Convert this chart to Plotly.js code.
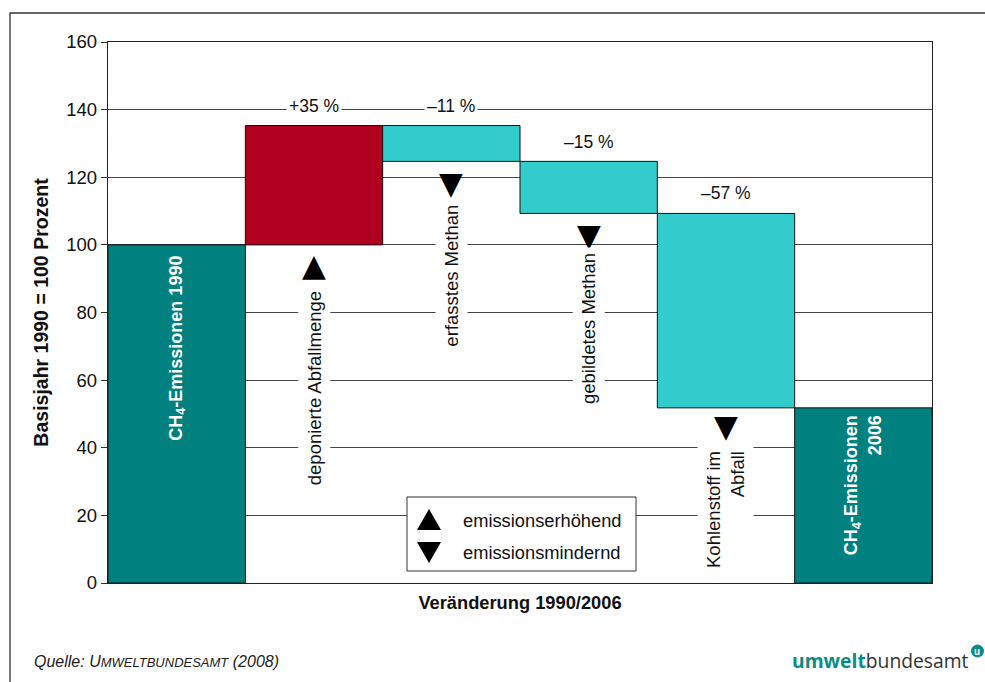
<!DOCTYPE html>
<html>
<head>
<meta charset="utf-8">
<script src="https://cdn.plot.ly/plotly-3.0.1.min.js"></script>
<style>html,body{margin:0;padding:0;background:#fff;}#chart{width:985px;height:682px;}</style>
</head>
<body>
<div id="chart"></div>
<script>
// ---- data ----
const categories = ["CH4-Emissionen 1990", "deponierte Abfallmenge", "erfasstes Methan", "gebildetes Methan", "Kohlenstoff im Abfall", "CH4-Emissionen 2006"];
const measures = ["absolute", "relative", "relative", "relative", "relative", "total"];
const values = [100, 35.3, -10.6, -15.4, -57.5, 0];
const pctLabels = ["+35 %", "–11 %", "–15 %", "–57 %"];
const barLabels = ["CH<sub>4</sub>-Emissionen 1990", "deponierte Abfallmenge", "erfasstes Methan", "gebildetes Methan", "Kohlenstoff im<br>Abfall", "CH<sub>4</sub>-Emissionen<br>2006"];
const directions = ["", "▲", "▼", "▼", "▼", ""];
const yTicks = [0, 20, 40, 60, 80, 100, 120, 140, 160];
const legendLabels = ["emissionserhöhend", "emissionsmindernd"];

// ---- layout helpers ----
const W = 985, H = 682, L = 108, R = 53, T = 42, B = 99;
const pw = W - L - R, ph = H - T - B;
const px = x => (x - L) / pw;          // pixel -> paper x
const py = y => (H - B - y) / ph;      // pixel -> paper y
const FONT = "Liberation Sans, Arial, sans-serif";
const TRI = "DejaVu Sans, sans-serif";

const trace = {
  type: "waterfall",
  x: categories.map((c, i) => i),
  measure: measures,
  y: values,
  textinfo: "none",
  hoverinfo: "skip",
  connector: {visible: false},
  increasing: {marker: {color: "#B1001F", line: {color: "#111", width: 1}}},
  decreasing: {marker: {color: "#33CCCC", line: {color: "#111", width: 1}}},
  totals: {marker: {color: "#00807F", line: {color: "#111", width: 1}}},
  showlegend: false
};

const ann = [];
// percent labels (above the change bars)
const pctY = [141, 141, 130.5, 115.2];
pctLabels.forEach((t, i) => ann.push({
  x: i + 1, y: pctY[i], xref: "x", yref: "y", text: t, showarrow: false,
  font: {family: FONT, size: 17.5, color: "#111"}, bgcolor: "#fff", borderpad: 2
}));
// triangles
const triY = [null, 94, 118.3, 102.8, 46.3, null];
directions.forEach((d, i) => { if (d) ann.push({
  x: i, y: triY[i], xref: "x", yref: "y", text: d, showarrow: false,
  font: {family: TRI, size: 31, color: "#000"}
});});
// rotated category labels
const labY = [69.5, 57.6, 91, 75.3, 21.6, 29];
barLabels.forEach((t, i) => {
  const total = (i === 0 || i === 5);
  ann.push({
    x: i, y: labY[i], xref: "x", yref: "y", text: total ? "<b>" + t + "</b>" : t,
    showarrow: false, textangle: -90, align: "right",
    font: {family: FONT, size: total ? 18 : 18.5, color: total ? "#fff" : "#111"},
    bgcolor: total ? "rgba(0,0,0,0)" : "#fff", borderpad: total ? 0 : 5
  });
});
// legend texts
legendLabels.forEach((t, i) => ann.push({
  x: px(461), y: py(520 + 32 * i), xref: "paper", yref: "paper", xanchor: "left", yanchor: "middle", text: t,
  showarrow: false, font: {family: FONT, size: 18.3, color: "#111"}
}));
// source
ann.push({
  x: px(32), y: py(661), xref: "paper", yref: "paper", xanchor: "left", yanchor: "middle",
  text: "<i>Quelle: U<span style=\"font-size:13px\">MWELTBUNDESAMT</span> (2008)</i>",
  showarrow: false, font: {family: FONT, size: 16, color: "#222"}
});
// logo
ann.push({
  x: px(971), y: py(660), xref: "paper", yref: "paper", xanchor: "right", yanchor: "middle",
  text: "<b><span style=\"color:#0A8C84\">umwelt</span></b>bundesamt",
  showarrow: false, font: {family: "Open Sans, sans-serif", size: 19.3, color: "#333"}
});
ann.push({
  x: px(977.5), y: py(651), xref: "paper", yref: "paper", xanchor: "center", yanchor: "middle", text: "<b>u</b>",
  showarrow: false, font: {family: FONT, size: 10, color: "#fff"}
});

const tri = (pts) => "M" + pts.map(p => px(p[0]) + "," + py(p[1])).join(" L") + " Z";

const shapes = [
  // outer frame
  {type: "rect", xref: "paper", yref: "paper", x0: px(10), x1: px(1000), y0: py(700), y1: py(13),
   line: {color: "#333", width: 1.3}, fillcolor: "rgba(0,0,0,0)", layer: "below"},
  // legend box
  {type: "rect", xref: "paper", yref: "paper", x0: px(407), x1: px(636), y0: py(571), y1: py(497),
   line: {color: "#333", width: 1}, fillcolor: "#fff", layer: "above"},
  // legend symbols
  {type: "path", xref: "paper", yref: "paper", path: tri([[417, 530], [441, 530], [429, 509]]),
   line: {width: 0}, fillcolor: "#000", layer: "above"},
  {type: "path", xref: "paper", yref: "paper", path: tri([[417, 542], [441, 542], [429, 563]]),
   line: {width: 0}, fillcolor: "#000", layer: "above"},
  // logo circle
  {type: "circle", xref: "paper", yref: "paper", x0: px(971.5), x1: px(983.5), y0: py(657), y1: py(645),
   line: {color: "#0A8C84", width: 1}, fillcolor: "#0A8C84", layer: "below"}
];

const layout = {
  width: W, height: H,
  margin: {l: L, r: R, t: T, b: B, pad: 0},
  paper_bgcolor: "#fff", plot_bgcolor: "#fff",
  font: {family: FONT, color: "#111"},
  waterfallgap: 0,
  showlegend: false,
  xaxis: {
    range: [-0.5, 5.5], showticklabels: false, ticks: "", showgrid: false, zeroline: false,
    showline: true, mirror: true, linecolor: "#222", linewidth: 1.3,
    title: {text: "<b>Veränderung 1990/2006</b>", font: {family: FONT, size: 18.3, color: "#111"}, standoff: 13}
  },
  yaxis: {
    range: [0, 160], tickvals: yTicks, ticks: "outside", ticklen: 6, tickcolor: "#333",
    showgrid: true, gridcolor: "#444", gridwidth: 1, zeroline: false,
    showline: true, mirror: true, linecolor: "#222", linewidth: 1.3,
    tickfont: {family: FONT, size: 18.5, color: "#111"},
    title: {text: "<b>Basisjahr 1990 = 100 Prozent</b>", font: {family: FONT, size: 19.5, color: "#111"}, standoff: 12}
  },
  annotations: ann,
  shapes: shapes
};

Plotly.newPlot("chart", [trace], layout, {displayModeBar: false, staticPlot: true});
</script>
</body>
</html>
